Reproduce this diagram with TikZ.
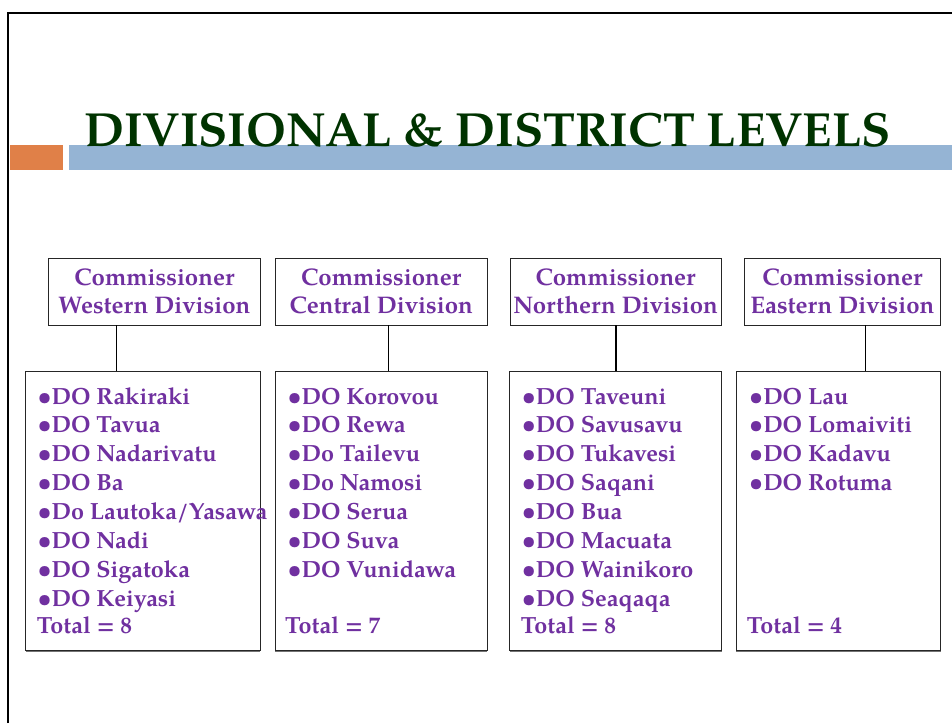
\documentclass[tikz,border=0pt]{standalone}
\usepackage{fontspec}
\setmainfont{TeX Gyre Pagella}
\usetikzlibrary{shadows}
\definecolor{titlegreen}{RGB}{0,51,0}
\definecolor{txtpurple}{RGB}{112,48,160}
\definecolor{barorange}{RGB}{224,128,72}
\definecolor{barblue}{RGB}{149,180,212}
\tikzset{
  frameline/.style={line width=2pt, black},
  headbox/.style={draw=black!85, line width=0.9pt, fill=white, inner sep=0pt, align=center,
    text=txtpurple, font=\fontsize{24}{27.3}\selectfont\bfseries,
    drop shadow={shadow xshift=0.4pt, shadow yshift=-1.3pt, fill=black!55, opacity=1}},
  listbox/.style={draw=black!85, line width=0.9pt, fill=white, inner sep=0pt,
    drop shadow={shadow xshift=0.4pt, shadow yshift=-1.3pt, fill=black!55, opacity=1}},
  listtext/.style={anchor=base west, inner sep=0pt, text=txtpurple,
    font=\fontsize{23.4}{27}\selectfont\bfseries},
  conn/.style={line width=0.9pt, black},
}
\begin{document}
\begin{tikzpicture}[x=1pt, y=-1pt]
\useasboundingbox (0,0) rectangle (952,723);
\fill[white] (0,0) rectangle (952,723);
% slide frame
\draw[frameline] (8,723) -- (8,12.5) -- (952,12.5);
% title bars
\fill[barorange] (10,145) rectangle (63,170);
\fill[barblue] (69,145) rectangle (952,170);
\node[anchor=base west, inner sep=0pt, text=titlegreen, font=\fontsize{47.9}{52}\selectfont\bfseries] (title) at (84,146) {DIVISIONAL \& DISTRICT LEVELS};

% header boxes
\node[headbox, minimum width=211.3pt, minimum height=67pt] (wh) at (154.35,291.5) {Commissioner\\Western Division};
\node[headbox, minimum width=211.7pt, minimum height=67pt] (ch) at (381.15,291.5) {Commissioner\\Central Division};
\node[headbox, minimum width=211pt, minimum height=67pt] (nh) at (615.5,291.5) {Commissioner\\Northern Division};
\node[headbox, minimum width=196.7pt, minimum height=67pt] (eh) at (842.35,291.5) {Commissioner\\Eastern Division};

% list boxes
\node[listbox, minimum width=234.3pt, minimum height=279.5pt] (wl) at (142.85,510.75) {};
\node[listbox, minimum width=212pt, minimum height=279.5pt] (cl) at (381,510.75) {};
\node[listbox, minimum width=212pt, minimum height=279.5pt] (nl) at (615.5,510.75) {};
\node[listbox, minimum width=204.7pt, minimum height=279.5pt] (el) at (838.35,510.75) {};

% connectors
\coordinate (wa) at ([xshift=-37.65pt]wh.south);
\coordinate (ca) at ([xshift=6.85pt]ch.south);
\coordinate (na) at ([xshift=0.2pt]nh.south);
\coordinate (ea) at ([xshift=22.95pt]eh.south);
\draw[conn] (wa) -- (wa |- wl.north);
\draw[conn] (ca) -- (ca |- cl.north);
\draw[conn, line width=1.8pt] (na) -- (na |- nl.north);
\draw[conn] (ea) -- (ea |- el.north);

% lists
\foreach \t [count=\i] in {DO Rakiraki, DO Tavua, DO Nadarivatu, DO Ba, Do Lautoka/Yasawa, DO Nadi, DO Sigatoka, DO Keiyasi}
  \node[listtext] (w\i) at (37.3,{404+28.9*(\i-1)}) {\textbullet\t};
\foreach \t [count=\i] in {DO Korovou, DO Rewa, Do Tailevu, Do Namosi, DO Serua, DO Suva, DO Vunidawa}
  \node[listtext] (c\i) at (287.3,{404+28.9*(\i-1)}) {\textbullet\t};
\foreach \t [count=\i] in {DO Taveuni, DO Savusavu, DO Tukavesi, DO Saqani, DO Bua, DO Macuata, DO Wainikoro, DO Seaqaqa}
  \node[listtext] (n\i) at (521.7,{404+28.9*(\i-1)}) {\textbullet\t};
\foreach \t [count=\i] in {DO Lau, DO Lomaiviti, DO Kadavu, DO Rotuma}
  \node[listtext] (e\i) at (749,{404+28.9*(\i-1)}) {\textbullet\t};

% totals
\node[listtext] (wt) at (36.7,633) {Total = 8};
\node[listtext] (ct) at (285,633) {Total = 7};
\node[listtext] (nt) at (520.7,633) {Total = 8};
\node[listtext] (et) at (746.7,633) {Total = 4};
\end{tikzpicture}
\end{document}
